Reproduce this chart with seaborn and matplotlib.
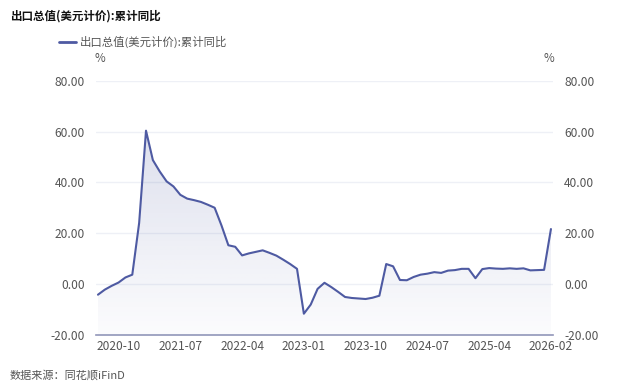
import numpy as np
import pandas as pd
import matplotlib
matplotlib.use("Agg")
import matplotlib.pyplot as plt
from matplotlib.path import Path as MplPath
import seaborn as sns

# ── data: 出口总值(美元计价) 累计同比, % (2026-01 not reported) ──────────────
months = [p.strftime("%Y-%m") for p in pd.period_range("2020-07", "2025-12", freq="M")] + ["2026-02"]

vals_2020 = [-4.3, -2.3, -0.8, 0.5, 2.5, 3.6]
vals_2021 = [24.0, 60.4, 48.8, 44.3, 40.4, 38.4, 35.1, 33.6, 33.0, 32.3, 31.2, 30.0]
vals_2022 = [23.0, 15.2, 14.6, 11.2, 12.0, 12.6, 13.2, 12.2, 11.1, 9.5, 7.8, 5.9]
vals_2023 = [-11.8, -8.2, -2.0, 0.4, -1.3, -3.2, -5.2, -5.6, -5.8, -6.0, -5.5, -4.7]
vals_2024 = [7.8, 6.9, 1.5, 1.4, 2.7, 3.6, 4.0, 4.6, 4.3, 5.2, 5.4, 5.9]
vals_2025 = [5.9, 2.2, 5.8, 6.2, 6.0, 5.9, 6.1, 5.9, 6.1, 5.3, 5.4, 5.5]
vals_2026 = [21.6]

values = vals_2020 + vals_2021 + vals_2022 + vals_2023 + vals_2024 + vals_2025 + vals_2026
df = pd.DataFrame({"idx": np.arange(len(months)), "month": months, "yoy": values})

tick_labels = ["2020-10", "2021-07", "2022-04", "2023-01", "2023-10", "2024-07", "2025-04", "2026-02"]
y_ticks = [-20, 0, 20, 40, 60, 80]

series_name = "出口总值(美元计价):累计同比"
line_color = "#4e5aa2"
text_color = "#555555"

sns.set_style("white")
plt.rcParams["font.family"] = ["Noto Sans CJK SC", "DejaVu Sans"]

fig = plt.figure(figsize=(6.4, 3.88), dpi=100)
ax = fig.add_axes([95.7 / 640, 1 - 334.5 / 388, (553 - 95.7) / 640, (334.5 - 81) / 388])

ymin, ymax = -20, 80
xlim = (-0.33, len(months) - 1 + 0.3)

# gradient area under the line
poly = ax.fill_between(df["idx"], df["yoy"], ymin, color="none", lw=0)
rgb = np.array(matplotlib.colors.to_rgb(line_color))
top = max(values)
img = np.zeros((256, 1, 4))
img[:, 0, :3] = rgb
img[:, 0, 3] = np.linspace(0.19, 0.02, 256)
im = ax.imshow(img, aspect="auto", extent=[df["idx"].min(), df["idx"].max(), ymin, top],
               origin="upper", zorder=1, interpolation="bilinear")
im.set_clip_path(MplPath(poly.get_paths()[0].vertices), transform=ax.transData)

sns.lineplot(data=df, x="idx", y="yoy", ax=ax, color=line_color, lw=1.5, zorder=3, legend=False)
ax.set_ylim(ymin, ymax)
ax.set_xlim(*xlim)

# grid and axes
for v in y_ticks[1:]:
    ax.axhline(v, color="#eef0f6", lw=1, zorder=0)
for s in ["top", "right", "left"]:
    ax.spines[s].set_visible(False)
ax.spines["bottom"].set_color("#9196b9")
ax.spines["bottom"].set_linewidth(1.2)

tick_pos = [months.index(t) for t in tick_labels]
ax.set_xticks(tick_pos)
ax.set_xticklabels(tick_labels)
ax.set_yticks(y_ticks)
ax.set_yticklabels([f"{v:.2f}" for v in y_ticks])
ax.tick_params(axis="x", length=0, pad=4, labelsize=8.6, colors=text_color)
ax.tick_params(axis="y", length=0, pad=8, labelsize=8.6, colors=text_color)
ax.set_xlabel("")
ax.set_ylabel("")

ax2 = ax.twinx()
ax2.set_ylim(ymin, ymax)
ax2.set_yticks(y_ticks)
ax2.set_yticklabels([f"{v:.2f}" for v in y_ticks])
ax2.tick_params(axis="y", length=0, pad=8, labelsize=8.6, colors=text_color)
for s in ax2.spines.values():
    s.set_visible(False)

# texts
fig.text(10 / 640, 1 - 16 / 388, series_name, fontsize=8.3, fontweight="bold", color="#111111", va="center")
fig.text(100 / 640, 1 - 58 / 388, "%", fontsize=8.3, color=text_color, ha="center", va="center")
fig.text(549 / 640, 1 - 58 / 388, "%", fontsize=8.3, color=text_color, ha="center", va="center")
fig.text(10 / 640, 1 - 375 / 388, "数据来源：同花顺iFinD", fontsize=8, color=text_color, va="center")

handle = plt.Line2D([], [], color=line_color, lw=2)
fig.legend([handle], [series_name], loc="center left", bbox_to_anchor=(49 / 640, 1 - 42 / 388),
           frameon=False, fontsize=8.2, handlelength=1.45, handletextpad=0.35, labelcolor=text_color)

fig.savefig("out.png", dpi=100)
